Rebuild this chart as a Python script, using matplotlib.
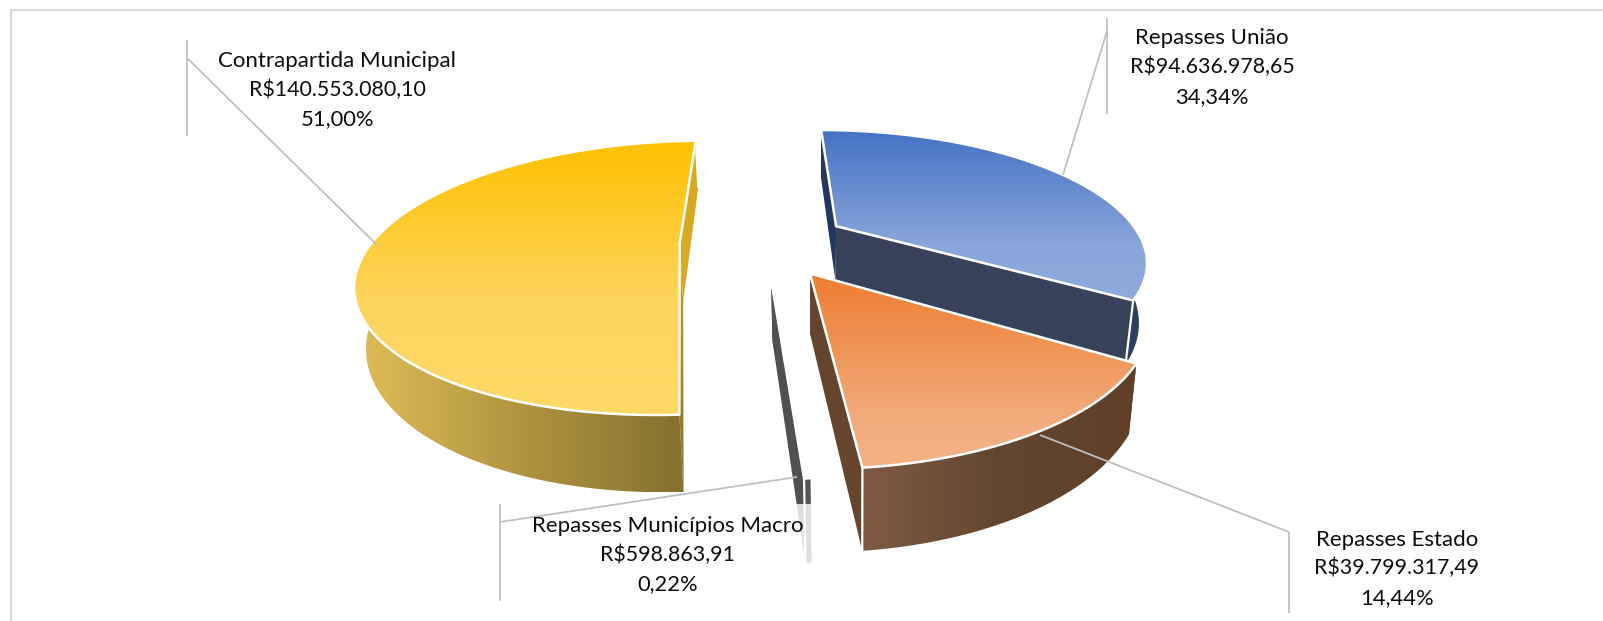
import numpy as np
import matplotlib
matplotlib.use("Agg")
import matplotlib.pyplot as plt
from matplotlib.colors import LinearSegmentedColormap
from matplotlib.patches import Polygon

# ---- data ----
categories = ["Repasses União", "Repasses Estado", "Repasses Municípios Macro", "Contrapartida Municipal"]
values = [94636978.65, 39799317.49, 598863.91, 140553080.10]
value_labels = ["R$94.636.978,65", "R$39.799.317,49", "R$598.863,91", "R$140.553.080,10"]
pct_labels = ["34,34%", "14,44%", "0,22%", "51,00%"]

# ---- view constants ----
W, H_PX = 1603, 621
R, RC = 315.0, 128.0      # horizontal / vertical disc scale
KP, KX = 0.25, 0.03       # perspective strength along depth / to the right
VX, VY = 696.0, 243.0     # vanishing column and disc-plane centre row
CX, CY = 0.218, -0.01     # pie centre in disc units
EXPLODE = 0.27
DEPTH = 58.0
TILT = 0.03               # view roll, radians
TAPER, TAPER_X = 0.975, 750.0  # vertical edges converge downwards
START = 86.4              # first slice start, degrees, clockwise sweep

plt.rcParams["font.family"] = ["Lato", "DejaVu Sans"]
fig = plt.figure(figsize=(W / 100, H_PX / 100), dpi=100)
ax = fig.add_axes([0, 0, 1, 1])
ax.set_axis_off()
z = [10]


def proj(X, Y, drop=0.0):
    X, Y = np.asarray(X, float), np.asarray(Y, float)
    s = 1.0 / (1.0 + KP * Y + KX * np.clip(X, 0, None))
    x = VX + R * X * s
    y = VY - RC * Y * s + drop * s
    if drop:
        x = TAPER_X + (x - TAPER_X) * TAPER
    return x + TILT * (y - VY), y - TILT * (x - VX)


def nz():
    z[0] += 1
    return z[0]


def grad_poly(xy, stops, horizontal=False):
    xy = np.asarray(xy)
    cmap = LinearSegmentedColormap.from_list("g", stops)
    g = np.linspace(0, 1, 256)
    g = g[None, :] if horizontal else g[:, None]
    x0, y0 = xy.min(axis=0)
    x1, y1 = xy.max(axis=0)
    im = ax.imshow(g, cmap=cmap, extent=(x0, x1, y1, y0), aspect="auto", zorder=nz(), vmin=0, vmax=1)
    clip = Polygon(xy, closed=True, transform=ax.transData, fc="none", ec="none")
    ax.add_patch(clip)
    im.set_clip_path(clip)


def white(xs, ys, lw=1.6):
    ax.plot(xs, ys, color="white", lw=lw, zorder=nz(), solid_capstyle="round", solid_joinstyle="round")


def wedge(a0, a1, faces):
    """a0 > a1, clockwise, degrees."""
    mid = np.radians((a0 + a1) / 2)
    ox, oy = CX + EXPLODE * np.cos(mid), CY + EXPLODE * np.sin(mid)
    th = np.radians(np.linspace(a0, a1, 200))
    X, Y = ox + np.cos(th), oy + np.sin(th)
    tx, ty = proj(X, Y)
    bx, by = proj(X, Y, DEPTH)
    ax_t, ay_t = proj(ox, oy)
    ax_b, ay_b = proj(ox, oy, DEPTH)
    # cut faces
    grad_poly([(ax_t, ay_t), (tx[0], ty[0]), (bx[0], by[0]), (ax_b, ay_b)], faces["start"])
    grad_poly([(ax_t, ay_t), (tx[-1], ty[-1]), (bx[-1], by[-1]), (ax_b, ay_b)], faces["end"])
    # rim: only the part that faces the viewer
    vis = np.sin(th) < 0.35
    rim = np.vstack([np.column_stack([tx[vis], ty[vis]]), np.column_stack([bx[vis], by[vis]])[::-1]])
    grad_poly(rim, faces["rim"], True)
    white([tx[-1], bx[-1]], [ty[-1], by[-1]])
    # top
    top = np.vstack([[ax_t, ay_t], np.column_stack([tx, ty])])
    grad_poly(top, faces["top"])
    white(list(top[:, 0]) + [ax_t], list(top[:, 1]) + [ay_t], lw=1.8)


sweeps = np.asarray(values) / np.sum(values) * 360.0
edges = START - np.concatenate([[0], np.cumsum(sweeps)])

styles = [
    dict(top=[(0, "#4472C4"), (0.68, "#8AA6DA"), (1, "#8FAADC")], rim=["#2D3F63", "#2D3F63"],
         start=["#22365E", "#26385F"], end=["#37425A", "#37425A"]),
    dict(top=[(0, "#ED7D31"), (0.8, "#F2AE80"), (1, "#F4B183")], rim=["#7F5A42", "#63462F", "#5F3F28"],
         start=["#5F3110", "#66452E"], end=["#66452E", "#66452E"]),
    dict(top=["#FAFAFA", "#FFFFFF"], rim=["#555555", "#555555"], start=["#505050", "#505050"],
         end=["#505050", "#505050"]),
    dict(top=[(0, "#FFC000"), (0.6, "#FCD55F"), (1, "#FFD966")], rim=["#E0BE58", "#B0953F", "#85702F"],
         start=["#C9A227", "#85702F"], end=["#DCA81E", "#D6AA2A"]),
]
# paint back to front: municipal, union, macro, state
for i in [3, 0, 2, 1]:
    wedge(edges[i], edges[i + 1], styles[i])

# white veil of the macro label
ax.add_patch(Polygon([(500, 504), (814, 504), (814, 601), (500, 601)], closed=True, fc="white", ec="none",
                     alpha=0.82, zorder=nz()))

# leaders
LC = "#BFBFBF"
leaders = [
    [(187, 40), (187, 136)], [(187, 58), (377, 245)],
    [(1107, 18), (1107, 114)], [(1107, 31), (1063, 175)],
    [(1289, 532), (1289, 613)], [(1289, 532), (1040, 435)],
    [(500, 504), (500, 601)], [(500, 522), (797, 477)],
]
for p, q in leaders:
    ax.plot([p[0], q[0]], [p[1], q[1]], color=LC, lw=1.3, zorder=nz(), solid_capstyle="butt")

# labels
label_pos = {3: (337, (61, 90, 119)), 0: (1212, (38, 67, 97)), 1: (1397, (540, 568, 598)), 2: (668, (526, 555, 584))}
for i, (cx, ys) in label_pos.items():
    for y, s, fs in zip(ys, (categories[i], value_labels[i], pct_labels[i]), (16, 15.4, 15.8)):
        ax.text(cx, y, s, ha="center", va="center", fontsize=fs, color="#0D0D0D", zorder=nz())

# frame
ax.plot([11, 11], [10, 621], color="#D9D9D9", lw=1.6, zorder=1)
ax.plot([11, 1603], [10, 10], color="#D9D9D9", lw=1.4, zorder=1)

ax.set_xlim(0, W)
ax.set_ylim(H_PX, 0)
fig.savefig("out.png", dpi=100, facecolor="white")
